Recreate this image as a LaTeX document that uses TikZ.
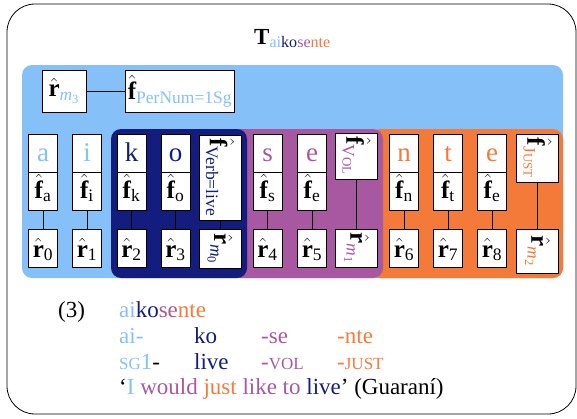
\documentclass[tikz,border=0pt]{standalone}
\usepackage{amsmath}
\usepackage{fontspec}
\setmainfont{Liberation Serif}
\definecolor{lbc}{RGB}{133,192,248}
\definecolor{nvc}{RGB}{20,28,125}
\definecolor{puc}{RGB}{167,88,160}
\definecolor{orc}{RGB}{244,122,58}
\newcommand{\fsc}[1]{{\fontsize{17}{20}\selectfont #1}}
\newcommand{\ssc}[1]{{\fontsize{13}{15}\selectfont #1}}
\tikzset{
  cell/.style={draw=black, line width=0.8pt, fill=white, inner sep=0pt,
    minimum width=29pt, minimum height=38pt, font=\fontsize{25}{30}\selectfont},
  letterbox/.style={cell, font=\fontsize{27}{30}\selectfont, text height=18pt, text depth=2pt},
  fbox/.style={cell, text height=17pt, text depth=3pt},
  rbox/.style={cell, text height=19pt, text depth=1pt},
  rotbox/.style={draw=black, line width=0.8pt, fill=white, inner sep=1pt,
    rotate=-90, minimum height=42pt, font=\fontsize{25}{30}\selectfont},
  topbox/.style={draw=black, line width=0.8pt, fill=white, inner xsep=2pt, inner ysep=0pt,
    minimum height=42pt, font=\fontsize{25}{30}\selectfont},
  link/.style={draw=black, line width=0.8pt},
  gl/.style={anchor=base west, inner sep=0pt, font=\fontsize{23}{28}\selectfont},
  region/.style={rounded corners=10pt}
}
\begin{document}
\begin{tikzpicture}[x=1pt,y=-1pt]
\useasboundingbox (0,0) rectangle (577,418);
% frame
\draw[line width=0.8pt, rounded corners=28pt] (7,4) rectangle (576,414);
% title
\node[anchor=base west, inner sep=0pt, font=\fontsize{23}{28}\selectfont] (title) at (254,44)
  {$\textbf{T}_{\text{\color{lbc}ai\color{nvc}ko\color{puc}se\color{orc}nte}}$};
% regions
\fill[lbc, region] (22,65) rectangle (563,278);
\fill[orc, region] (370,129) rectangle (563,278);
\fill[puc, region] (230,129) rectangle (383,278);
\fill[nvc, region] (111,129) rectangle (247,278);
% top row
\node[topbox, minimum width=44pt] (rm3) at (64,91) {$\hat{\textbf{r}}_{\textcolor{lbc}{\textit{m}_{\text{3}}}}$};
\node[topbox] (fpn) at (180,91) {$\hat{\textbf{f}}_{\text{\color{lbc}PerNum=1Sg}}$};
\draw[link] (rm3) -- (fpn);
% ordinary columns
\foreach \x/\c/\d/\col [count=\i] in {43/a/0/lbc, 87/i/1/lbc, 131.5/k/2/nvc, 175.5/o/3/nvc,
  267.5/s/4/puc, 312/e/5/puc, 404/n/6/orc, 448/t/7/orc, 492/e/8/orc} {
  \node[letterbox, text=\col] (l\i) at (\x,153) {\c};
  \node[fbox] (f\i) at (\x,191) {$\hat{\textbf{f}}_{\text{\c}}$};
  \node[rbox] (r\i) at (\x,248) {$\hat{\textbf{r}}_{\text{\d}}$};
  \draw[link] (f\i) -- (r\i);
}
% rotated boxes
\node[rotbox, minimum width=85pt] (fverb) at (220,177.5) {$\hat{\textbf{f}}_{\text{\color{nvc}Verb=live}}$};
\node[rotbox, minimum width=39pt] (rm0) at (220,248.5) {$\hat{\textbf{r}}_{\textcolor{nvc}{\textit{m}_{\text{0}}}}$};
\draw[link] (fverb) -- (rm0);
\node[rotbox, minimum width=46pt] (fvol) at (356.5,156) {$\hat{\textbf{f}}_{\text{\color{puc}V\ssc{OL}}}$};
\node[rotbox, minimum width=38pt] (rm1) at (356.5,248) {$\hat{\textbf{r}}_{\textcolor{puc}{\textit{m}_{\text{1}}}}$};
\draw[link] (fvol) -- (rm1);
\node[rotbox, minimum width=48pt] (fjust) at (537.5,158) {$\hat{\textbf{f}}_{\text{\color{orc}J\ssc{UST}}}$};
\node[rotbox, minimum width=44pt] (rm2) at (537.5,251) {$\hat{\textbf{r}}_{\textcolor{orc}{\textit{m}_{\text{2}}}}$};
\draw[link] (fjust) -- (rm2);
% gloss
\node[gl] (num) at (58,317) {(3)};
\node[gl] (word) at (119,317) {\color{lbc}ai\color{nvc}ko\color{puc}se\color{orc}nte};
\node[gl, text=lbc] (m1) at (119,343) {ai-};
\node[gl, text=nvc] (m2) at (194,343) {ko};
\node[gl, text=puc] (m3) at (261,343) {-se};
\node[gl, text=orc] (m4) at (337,343) {-nte};
\node[gl] (g1) at (119,369) {\textcolor{lbc}{\fsc{SG}1}-};
\node[gl, text=nvc] (g2) at (194,369) {live};
\node[gl, text=puc] (g3) at (261,369) {-\fsc{VOL}};
\node[gl, text=orc] (g4) at (337,369) {-\fsc{JUST}};
\node[gl] (tr) at (119,394) {‘\textcolor{lbc}{I} \textcolor{puc}{would} \textcolor{orc}{just} \textcolor{puc}{like to} \textcolor{nvc}{live}’ (Guaraní)};
\end{tikzpicture}
\end{document}
